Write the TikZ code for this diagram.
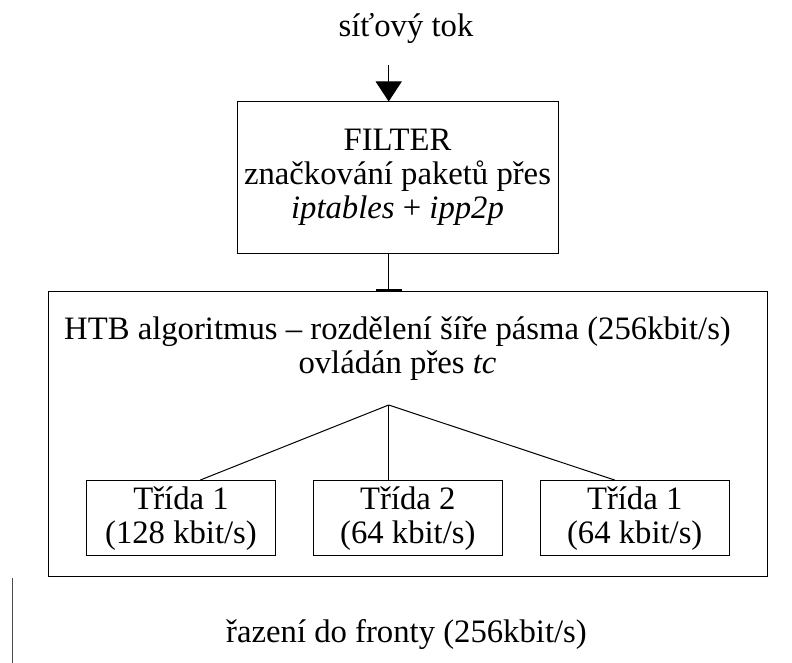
\documentclass[tikz,border=0pt]{standalone}
\usepackage{fontspec}
\setmainfont{Liberation Serif}
\usetikzlibrary{arrows.meta,calc}
\begin{document}
\begin{tikzpicture}[x=1pt,y=-1pt,
  every node/.style={font=\fontsize{32.7}{34}\selectfont, inner sep=0pt, align=center},
  box/.style={draw=black, line width=1pt},
  classbox/.style={box, minimum width=189pt, minimum height=75.3pt},
  wire/.style={draw=black, line width=1pt}]
\useasboundingbox (0,0) rectangle (792,663);

% incoming traffic
\node[anchor=base] (title) at (406,37) {síťový tok};
\coordinate (feed) at (388.7,65);
\coordinate (tap) at (388.7,0);

% packet marking stage
\node[box, minimum width=321pt, minimum height=151pt] (filter) at (397.5,177.5)
  {FILTER\\značkování paketů přes\\\textit{iptables} + \textit{ipp2p}};
\draw[wire, -{Triangle[width=26pt,length=20pt]}] (feed) -- (feed |- filter.north);

% HTB shaping stage
\node[box, minimum width=719pt, minimum height=284.5pt] (htb) at (407.5,433.75) {};
\node (htbtext) at (397.5,349)
  {HTB algoritmus – rozdělení šíře pásma (256kbit/s)\\ovládán přes \textit{tc}};
\draw[wire, -{Bar[width=26pt,line width=1.6pt]}] (filter.south -| tap) -- (htb.north -| tap);

% traffic classes
\coordinate (apex) at (388.7,405);
\node[classbox] (c1) at (181,518.3) {Třída 1\\(128 kbit/s)};
\node[classbox] (c2) at (407.8,518.3) {Třída 2\\(64 kbit/s)};
\node[classbox] (c3) at (634.7,518.3) {Třída 1\\(64 kbit/s)};
\draw[wire] (apex) -- ([xshift=19pt]c1.north);
\draw[wire] (apex) -- (c2.north -| apex);
\draw[wire] (apex) -- ([xshift=-19.7pt]c3.north);

% output queue
\node[anchor=base] (queue) at (406.5,642.7) {řazení do fronty (256kbit/s)};
\coordinate (s1) at (12,578);
\coordinate (s2) at (12,663);
\draw[wire, draw=black!70] (s1) -- (s2);
\end{tikzpicture}
\end{document}
